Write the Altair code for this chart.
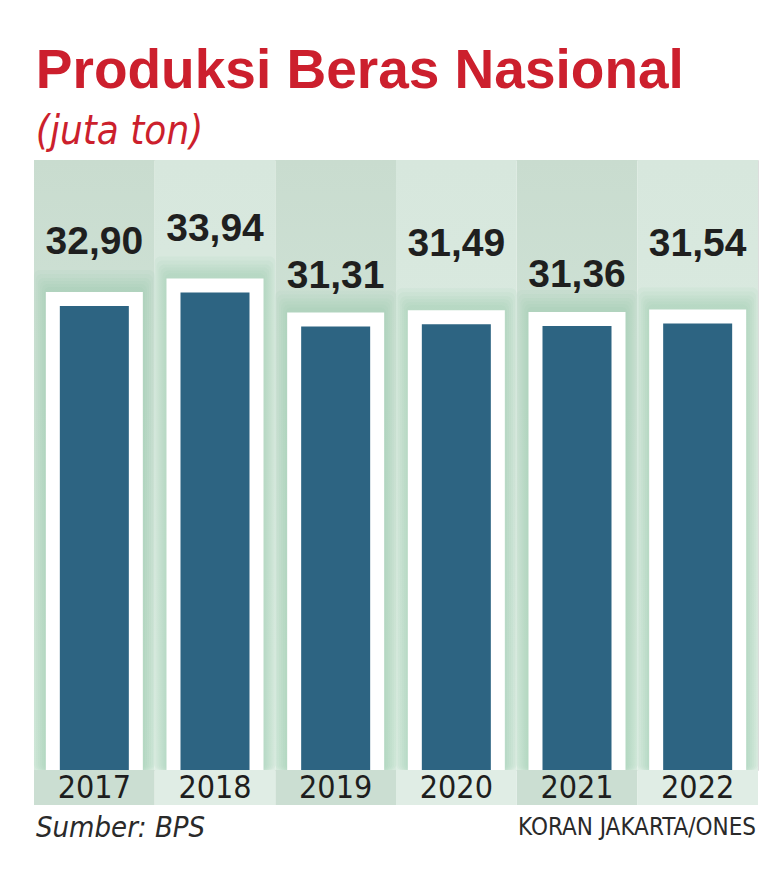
import altair as alt
import pandas as pd

# ---- data ----
years = ["2017", "2018", "2019", "2020", "2021", "2022"]
values = [32.90, 33.94, 31.31, 31.49, 31.36, 31.54]
dark_years = ["2017", "2019", "2021"]
label_group_a = ["2017", "2018"]
label_group_b = ["2019", "2021"]
label_group_c = ["2020", "2022"]
title_text = "Produksi Beras Nasional"
subtitle_text = "(juta ton)"
source_text = "Sumber: BPS"
credit_text = "KORAN JAKARTA/ONES"

df = pd.DataFrame({"year": years, "value": values})

W, H = 724, 610
Y_MIN, Y_MAX = -3, 44.2
NARROW = "Liberation Sans Narrow, DejaVu Sans Condensed, sans-serif"
BOLD = "Liberation Sans, Arial, sans-serif"
RED = "#cc1f2d"

xenc = alt.X(
    "year:N", sort=years,
    scale=alt.Scale(paddingInner=0, paddingOuter=0),
    axis=alt.Axis(title=None, labelAngle=0, ticks=False, domain=False, grid=False,
                  labelPadding=17, labelBaseline="middle", labelFont=NARROW,
                  labelFontSize=32, labelColor="#1e1e1e", zindex=2),
)
yscale = alt.Scale(domain=[Y_MIN, Y_MAX], zero=False, nice=False)
yenc = alt.Y("value:Q", scale=yscale, axis=None)


def grad(stops):
    return alt.Gradient(
        gradient="linear", x1=0, x2=0, y1=0, y2=1,
        stops=[alt.GradientStop(offset=o, color=c) for o, c in stops],
    )


base = alt.Chart(df)
is_dark = alt.FieldOneOfPredicate(field="year", oneOf=dark_years)
is_light = alt.FieldOneOfPredicate(field="year", oneOf=[y for y in years if y not in dark_years])

bg_dark = base.transform_filter(is_dark).mark_bar(
    color=grad([(0, "#c9dccf"), (0.3, "#cee1d5"), (1, "#d5e9dc")])
).encode(x=xenc, y=alt.value(0), y2=alt.value(H))
bg_light = base.transform_filter(is_light).mark_bar(
    color=grad([(0, "#d7e7dd"), (0.3, "#d9e9df"), (1, "#ddede3")])
).encode(x=xenc, y=alt.value(0), y2=alt.value(H))

strip_dark = base.transform_filter(is_dark).mark_bar(color="#cbded2").encode(
    x=xenc, y=alt.value(H), y2=alt.value(H + 35))
strip_light = base.transform_filter(is_light).mark_bar(color="#e0ede5").encode(
    x=xenc, y=alt.value(H), y2=alt.value(H + 35))

glows = [
    base.mark_bar(size=s, yOffset=-o, color="#8fc4a2", opacity=0.09,
                  cornerRadius=6).encode(x=xenc, y=yenc, y2=alt.datum(Y_MIN))
    for s, o in [(121, 36), (117, 32), (113, 28), (109, 25), (105, 22), (101, 19)]
]

frame = base.mark_bar(size=97, yOffset=-14, color="white").encode(
    x=xenc, y=yenc, y2=alt.datum(Y_MIN))
bar = base.mark_bar(size=69, color="#2d6482").encode(
    x=xenc, y=yenc, y2=alt.datum(Y_MIN))


def labels(group, dy):
    return base.transform_filter(
        alt.FieldOneOfPredicate(field="year", oneOf=group)
    ).transform_calculate(
        label="replace(format(datum.value, '.2f'), '.', ',')"
    ).mark_text(
        font=BOLD, fontWeight="bold", fontSize=39, color="#1f1f1f",
        baseline="middle", align="center", dy=dy,
    ).encode(x=xenc, y=yenc, text="label:N")


lab_a = labels(label_group_a, -64)
lab_b = labels(label_group_b, -51)
lab_c = labels(label_group_c, -80)

src = alt.Chart(pd.DataFrame({"t": [source_text]})).mark_text(
    font=NARROW, fontStyle="italic", fontSize=29, color="#2a2a2a",
    align="left", baseline="middle",
).encode(text="t:N", x=alt.value(2), y=alt.value(H + 58))

credit = alt.Chart(pd.DataFrame({"t": [credit_text]})).mark_text(
    font=NARROW, fontSize=24, color="#2a2a2a",
    align="right", baseline="middle",
).encode(text="t:N", x=alt.value(W - 2), y=alt.value(H + 58))

chart = alt.layer(
    bg_dark, bg_light, strip_dark, strip_light, *glows, frame, bar,
    lab_a, lab_b, lab_c, src, credit,
).properties(
    width=W, height=H,
    padding={"left": 25, "top": 36, "right": 10, "bottom": 10},
    title=alt.TitleParams(
        text=title_text, subtitle=subtitle_text, anchor="start",
        font=BOLD, fontSize=55, fontWeight="bold", color=RED,
        subtitleFont=NARROW, subtitleFontStyle="italic", subtitleFontSize=40,
        subtitleColor=RED, subtitlePadding=12, offset=7, dx=2,
    ),
).configure_view(stroke=None).configure(background="white")

chart.save("out.html", embed_options={"renderer": "svg", "actions": False})
